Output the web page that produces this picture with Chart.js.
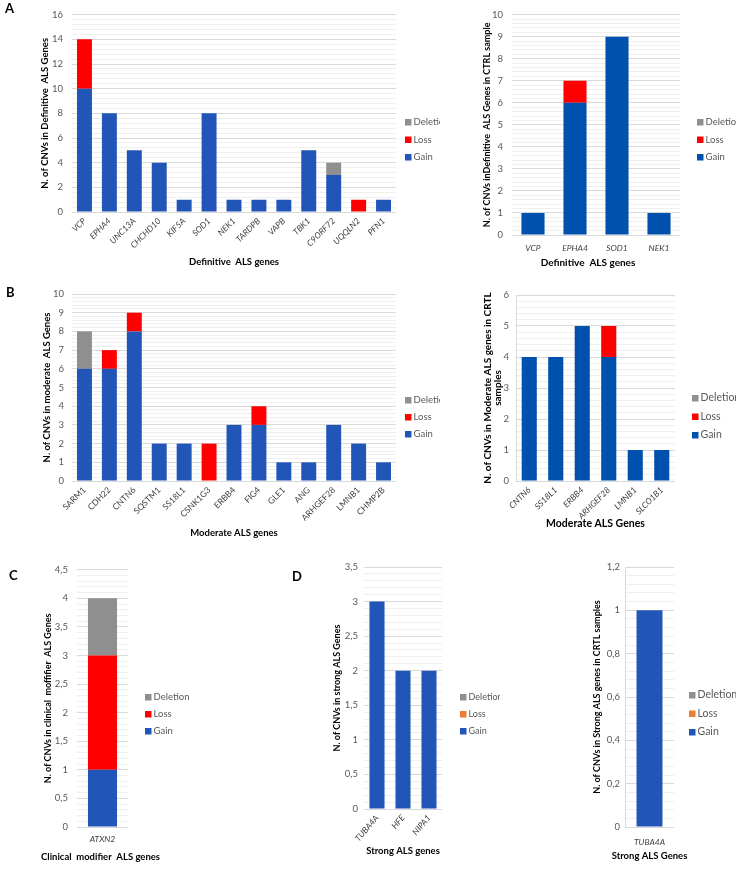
<!DOCTYPE html>
<html>
<head>
<meta charset="utf-8">
<script src="https://cdn.jsdelivr.net/npm/chart.js@4.4.1/dist/chart.umd.min.js"></script>
<style>
  body { margin: 0; background: #fff; }
  #fig { position: relative; width: 736px; height: 871px; overflow: hidden; font-family: Lato, "Liberation Sans", sans-serif; }
  .panel { position: absolute; }
  .panel.cover { background: #fff; }
  .tag { position: absolute; font-weight: bold; font-size: 13px; color: #000; }
</style>
</head>
<body>
<div id="fig">
  <div class="panel" style="left:0;top:0;width:440px;height:272px"><canvas id="chartDef"></canvas></div>
  <div class="panel cover" style="left:440px;top:0;width:296px;height:272px"><canvas id="chartDefCtrl"></canvas></div>
  <div class="panel" style="left:0;top:280px;width:440px;height:262px"><canvas id="chartMod"></canvas></div>
  <div class="panel cover" style="left:440px;top:280px;width:296px;height:262px"><canvas id="chartModCtrl"></canvas></div>
  <div class="panel" style="left:0;top:555px;width:240px;height:316px"><canvas id="chartClin"></canvas></div>
  <div class="panel" style="left:260px;top:555px;width:240px;height:316px"><canvas id="chartStrong"></canvas></div>
  <div class="panel" style="left:500px;top:555px;width:236px;height:316px"><canvas id="chartStrongCtrl"></canvas></div>
  <div class="tag" style="left:5px;top:0px">A</div>
  <div class="tag" style="left:6px;top:284px">B</div>
  <div class="tag" style="left:9px;top:567px">C</div>
  <div class="tag" style="left:292px;top:568px">D</div>
</div>
<script>
// Definitive ALS genes (patients / controls)
const defGenes = ['VCP', 'EPHA4', 'UNC13A', 'CHCHD10', 'KIF5A', 'SOD1', 'NEK1', 'TARDPB', 'VAPB', 'TBK1', 'C9ORF72', 'UQQLN2', 'PFN1'];
const defGain = [10, 8, 5, 4, 1, 8, 1, 1, 1, 5, 3, 0, 1];
const defLoss = [4, 0, 0, 0, 0, 0, 0, 0, 0, 0, 0, 1, 0];
const defDeletion = [0, 0, 0, 0, 0, 0, 0, 0, 0, 0, 1, 0, 0];
const defCtrlGenes = ['VCP', 'EPHA4', 'SOD1', 'NEK1'];
const defCtrlGain = [1, 6, 9, 1];
const defCtrlLoss = [0, 1, 0, 0];
const defCtrlDeletion = [0, 0, 0, 0];

// Moderate ALS genes
const modGenes = ['SARM1', 'CDH22', 'CNTN6', 'SQSTM1', 'SS18L1', 'CSNK1G3', 'ERBB4', 'FIG4', 'GLE1', 'ANG', 'ARHGEF28', 'LMNB1', 'CHMP2B'];
const modGain = [6, 6, 8, 2, 2, 0, 3, 3, 1, 1, 3, 2, 1];
const modLoss = [0, 1, 1, 0, 0, 2, 0, 1, 0, 0, 0, 0, 0];
const modDeletion = [2, 0, 0, 0, 0, 0, 0, 0, 0, 0, 0, 0, 0];
const modCtrlGenes = ['CNTN6', 'SS18L1', 'ERBB4', 'ARHGEF28', 'LMNB1', 'SLCO1B1'];
const modCtrlGain = [4, 4, 5, 4, 1, 1];
const modCtrlLoss = [0, 0, 0, 1, 0, 0];
const modCtrlDeletion = [0, 0, 0, 0, 0, 0];

// Clinical modifier and strong ALS genes
const clinGenes = ['ATXN2'];
const clinGain = [1];
const clinLoss = [2];
const clinDeletion = [1];
const strongGenes = ['TUBA4A', 'HFE', 'NIPA1'];
const strongGain = [3, 2, 2];
const strongLoss = [0, 0, 0];
const strongDeletion = [0, 0, 0];
const strongCtrlGenes = ['TUBA4A'];
const strongCtrlGain = [1];
const strongCtrlLoss = [0];
const strongCtrlDeletion = [0];

const BLUE = '#2255B8', DARK_BLUE = '#0050AE', RED = '#FF0000', GREY = '#8F8F8F', ORANGE = '#ED7D31';
const FONT = 'Lato, "Liberation Sans", sans-serif';

Chart.defaults.font.family = FONT;

// legend beside the plot (Deletion / Loss / Gain) and the x caption under the labels,
// drawn by hand so the caption is not squeezed to the width of a narrow plot
const sideLegend = {
  id: 'sideLegend',
  afterDraw(chart, args, opts) {
    const ctx = chart.ctx;
    ctx.save();
    ctx.textBaseline = 'middle';
    ctx.font = opts.size + 'px ' + FONT;
    chart.data.datasets.slice().reverse().forEach((ds, i) => {
      const y = opts.y + i * opts.gap;
      ctx.fillStyle = ds.backgroundColor;
      ctx.fillRect(opts.x, y - 3, 6.5, 6.5);
      ctx.fillStyle = '#595959';
      ctx.fillText(ds.label, opts.x + 8.5, y);
    });
    const area = chart.chartArea;
    ctx.font = 'bold ' + opts.captionSize + 'px ' + FONT;
    ctx.fillStyle = '#000';
    ctx.textAlign = 'center';
    ctx.fillText(opts.caption, (area.left + area.right) / 2 + (opts.captionShift || 0), opts.captionY);
    ctx.restore();
  }
};

function initChart(id, labels, gain, loss, deletion, o) {
  const canvas = document.getElementById(id);
  const box = canvas.parentElement;
  const left = box.offsetLeft, top = box.offsetTop, W = box.clientWidth, H = box.clientHeight;
  const [l, t, r, b] = o.plot;
  const isMajor = v => Math.abs(v / o.major - Math.round(v / o.major)) < 1e-6;
  const fmt = v => String(Math.round(v * 100) / 100).replace('.', ',');
  const yTitleSize = o.yTitleSize || 9.5;
  const yTitleLH = o.yTitleLH || 1.2;
  return new Chart(canvas, {
    type: 'bar',
    data: {
      labels,
      datasets: [
        { label: 'Gain', data: gain, backgroundColor: o.gainColor || BLUE },
        { label: 'Loss', data: loss, backgroundColor: o.lossColor || RED },
        { label: 'Deletion', data: deletion, backgroundColor: GREY }
      ]
    },
    options: {
      responsive: true,
      maintainAspectRatio: false,
      animation: false,
      events: [],
      datasets: { bar: { barPercentage: o.bar, categoryPercentage: 1 } },
      layout: { padding: { left: 0, top: t - top, right: left + W - r, bottom: 0 } },
      plugins: {
        legend: { display: false },
        tooltip: { enabled: false },
        sideLegend: {
          x: o.legend[0] - left, y: o.legend[1] - top, gap: o.legend[2], size: o.legend[3] || 9.5,
          caption: o.xTitle, captionY: o.xTitleY - top, captionSize: o.xTitleSize || 9.5, captionShift: o.xTitleShift
        }
      },
      scales: {
        x: {
          stacked: true,
          grid: { display: false, drawTicks: false },
          border: { display: false },
          ticks: {
            autoSkip: false,
            minRotation: o.rot,
            maxRotation: o.rot,
            padding: o.xPad,
            color: '#404040',
            font: { size: o.xSize || 8.5, style: o.italic ? 'italic' : 'normal' }
          },
          afterFit: s => { s.height = top + H - b; }
        },
        y: {
          stacked: true,
          min: 0,
          max: o.max,
          border: { display: !!o.axisLine, color: '#D9D9D9' },
          grid: { drawTicks: false, color: c => isMajor(c.tick.value) ? '#D9D9D9' : '#EFEFEF' },
          ticks: {
            stepSize: o.major / 5,
            autoSkip: false,
            padding: o.yPad,
            color: '#595959',
            font: { size: 9.5 },
            callback: v => isMajor(v) ? fmt(v) : ''
          },
          title: {
            display: true,
            text: o.yTitle,
            color: '#000',
            font: { size: yTitleSize, weight: 'bold', lineHeight: yTitleLH },
            padding: { top: o.yTitleX - left - yTitleSize * yTitleLH / 2, bottom: 0 }
          },
          afterFit: s => { s.width = l - left; }
        }
      }
    },
    plugins: [sideLegend]
  });
}

initChart('chartDef', defGenes, defGain, defLoss, defDeletion, {
  plot: [72, 13, 396, 212], max: 16, major: 2, bar: 0.6, rot: 45, xPad: 4, italic: true,
  yTitle: 'N. of CNVs in Definitive  ALS Genes', yTitleX: 45, yPad: 9,
  xTitle: 'Definitive  ALS genes', xTitleY: 262, legend: [405, 122, 17.5]
});
initChart('chartDefCtrl', defCtrlGenes, defCtrlGain, defCtrlLoss, defCtrlDeletion, {
  plot: [512, 12, 680, 235], max: 10, major: 1, bar: 0.55, rot: 0, xPad: 8, italic: true,
  yTitle: 'N. of CNVs inDefinitive  ALS Genes in CTRL sample', yTitleX: 487, yPad: 9, yTitleSize: 9,
  xTitle: 'Definitive  ALS genes', xTitleY: 263, xTitleSize: 10, xTitleShift: -8,
  legend: [697, 122, 17.5], gainColor: DARK_BLUE
});
initChart('chartMod', modGenes, modGain, modLoss, modDeletion, {
  plot: [72, 294, 396, 481], max: 10, major: 1, bar: 0.6, rot: 45, xPad: 4, italic: false,
  yTitle: 'N. of CNVs in moderate  ALS Genes', yTitleX: 47, yPad: 8,
  xTitle: 'Moderate ALS genes', xTitleY: 533, legend: [405, 400, 17]
});
initChart('chartModCtrl', modCtrlGenes, modCtrlGain, modCtrlLoss, modCtrlDeletion, {
  plot: [516, 295, 675, 481], max: 6, major: 1, bar: 0.57, rot: 45, xPad: 4, italic: true, xSize: 8.5,
  yTitle: ['N. of CNVs in Moderate ALS genes in CRTL', 'samples'], yTitleX: 488, yPad: 7, yTitleSize: 10, yTitleLH: 1.0,
  xTitle: 'Moderate ALS Genes', xTitleY: 524, xTitleSize: 10.5,
  legend: [692, 398, 18.5, 10.5], gainColor: DARK_BLUE, axisLine: true
});
initChart('chartClin', clinGenes, clinGain, clinLoss, clinDeletion, {
  plot: [77, 567, 128, 827], max: 4.5, major: 0.5, bar: 0.57, rot: 0, xPad: 7, italic: true,
  yTitle: 'N. of CNVs in clinical  moffifier  ALS Genes', yTitleX: 48, yPad: 9, yTitleSize: 9,
  xTitle: 'Clinical  modifier  ALS genes', xTitleY: 857, xTitleShift: -2, legend: [145, 697, 17]
});
initChart('chartStrong', strongGenes, strongGain, strongLoss, strongDeletion, {
  plot: [364, 567, 442, 809], max: 3.5, major: 0.5, bar: 0.58, rot: 50, xPad: 4, italic: true,
  yTitle: 'N. of CNVs in strong ALS Genes', yTitleX: 337, yPad: 6, yTitleSize: 9,
  xTitle: 'Strong ALS genes', xTitleY: 851, legend: [460, 697, 17, 9], lossColor: ORANGE
});
initChart('chartStrongCtrl', strongCtrlGenes, strongCtrlGain, strongCtrlLoss, strongCtrlDeletion, {
  plot: [625, 567, 674, 827], max: 1.2, major: 0.2, bar: 0.53, rot: 0, xPad: 10, italic: true,
  yTitle: 'N. of CNVs in Strong ALS genes in CRTL samples', yTitleX: 597, yPad: 5, yTitleSize: 9,
  xTitle: 'Strong ALS Genes', xTitleY: 856, xTitleSize: 9.5,
  legend: [689, 695, 18.5, 10.5], lossColor: ORANGE, axisLine: true
});
</script>
</body>
</html>
